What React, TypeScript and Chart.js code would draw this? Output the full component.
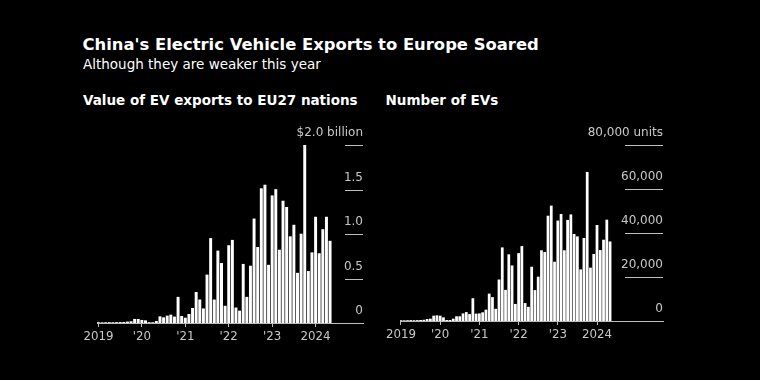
import React, { useEffect, useRef } from 'react';
import { Chart, registerables } from 'chart.js';

Chart.register(...registerables);

const monthLabels = [
  '2019-01', '2019-02', '2019-03', '2019-04', '2019-05', '2019-06', '2019-07', '2019-08', '2019-09', '2019-10', '2019-11', '2019-12',
  '2020-01', '2020-02', '2020-03', '2020-04', '2020-05', '2020-06', '2020-07', '2020-08', '2020-09', '2020-10', '2020-11', '2020-12',
  '2021-01', '2021-02', '2021-03', '2021-04', '2021-05', '2021-06', '2021-07', '2021-08', '2021-09', '2021-10', '2021-11', '2021-12',
  '2022-01', '2022-02', '2022-03', '2022-04', '2022-05', '2022-06', '2022-07', '2022-08', '2022-09', '2022-10', '2022-11', '2022-12',
  '2023-01', '2023-02', '2023-03', '2023-04', '2023-05', '2023-06', '2023-07', '2023-08', '2023-09', '2023-10', '2023-11', '2023-12',
  '2024-01', '2024-02', '2024-03', '2024-04', '2024-05',
];

// Value of EV exports to EU27 nations, $ billion
const exportValueBn = [
  0.005, 0.004, 0.005, 0.006, 0.005, 0.006, 0.007, 0.008, 0.012, 0.016, 0.042, 0.041,
  0.031, 0.026, 0.005, 0.005, 0.019, 0.071, 0.06, 0.079, 0.09, 0.068, 0.29, 0.075,
  0.056, 0.098, 0.165, 0.345, 0.26, 0.16, 0.54, 0.95, 0.26, 0.81, 0.67, 0.19,
  0.87, 0.93, 0.17, 0.135, 0.66, 0.29, 0.64, 1.17, 0.85, 1.51, 1.55, 0.65,
  1.43, 1.5, 0.82, 1.37, 1.3, 0.97, 1.1, 0.56, 1.0, 2.01, 0.58, 0.79,
  1.19, 0.78, 1.05, 1.19, 0.92,
];

// Number of EVs, units
const exportUnits = [
  200, 150, 200, 250, 200, 250, 300, 400, 750, 900, 2270, 2420,
  2270, 1500, 300, 300, 900, 2000, 2000, 3300, 3900, 3000, 10200, 3200,
  3300, 3800, 5000, 12300, 10700, 5400, 18700, 33300, 14000, 30150, 25100, 7600,
  30700, 33900, 8000, 6300, 24500, 13900, 20000, 32000, 31200, 47700, 52300, 26800,
  45500, 48500, 32000, 45800, 48300, 39400, 38300, 23300, 37600, 67600, 24100, 30300,
  43500, 32100, 36800, 45900, 36000,
];

const xTickMonths = ['2019-01', '2020-01', '2021-01', '2022-01', '2023-01', '2024-01'];
const xTickLabels = ['2019', "'20", "'21", "'22", "'23", '2024'];

const valueTicks = [0, 0.5, 1, 1.5, 2];
const valueTickLabels = ['0', '0.5', '1.0', '1.5', '$2.0 billion'];

const unitTicks = [0, 20000, 40000, 60000, 80000];
const unitTickLabels = ['0', '20,000', '40,000', '60,000', '80,000 units'];

const TICK_COLOR = '#c8c8c8';
const LINE_COLOR = '#bdbdbd';
const FONT = 'DejaVu Sans';

type PanelProps = {
  values: number[];
  yTicks: number[];
  yLabels: string[];
  xMin: number;
  xMax: number;
  gridLen: number;
  barThickness: number;
  padding: { left: number; right: number; top: number; bottom: number };
  left: number;
  top: number;
  width: number;
  height: number;
};

function BarPanel(p: PanelProps) {
  const ref = useRef<HTMLCanvasElement>(null);
  useEffect(() => {
    if (!ref.current) return;
    const tickIdx = xTickMonths.map((m) => monthLabels.indexOf(m));
    const shortGrid = {
      id: 'shortGrid',
      beforeDatasetsDraw(chart: any) {
        const { ctx, chartArea, scales } = chart;
        ctx.save();
        ctx.strokeStyle = LINE_COLOR;
        ctx.lineWidth = 1;
        p.yTicks.forEach((v) => {
          const y = Math.round(scales.y.getPixelForValue(v)) + 0.5;
          ctx.beginPath();
          ctx.moveTo(chartArea.right - p.gridLen, y);
          ctx.lineTo(chartArea.right, y);
          ctx.stroke();
        });
        ctx.restore();
      },
    };
    const chart = new Chart(ref.current, {
      type: 'bar',
      data: {
        datasets: [
          {
            data: p.values.map((v, i) => ({ x: monthLabels.indexOf(monthLabels[i]), y: v })),
            backgroundColor: '#ffffff',
            borderWidth: 0,
            barThickness: p.barThickness,
          },
        ],
      },
      options: {
        animation: false,
        responsive: false,
        maintainAspectRatio: false,
        layout: { padding: p.padding },
        plugins: { legend: { display: false }, tooltip: { enabled: false } },
        scales: {
          x: {
            type: 'linear',
            offset: false,
            min: p.xMin,
            max: p.xMax,
            afterBuildTicks: (s: any) => {
              s.ticks = tickIdx.map((v) => ({ value: v }));
            },
            afterFit: (s: any) => {
              s.height = 20;
            },
            ticks: {
              autoSkip: false,
              maxRotation: 0,
              padding: 3,
              color: TICK_COLOR,
              font: { family: FONT, size: 11.8 },
              callback: (_v: any, i: number) => xTickLabels[i],
            },
            grid: { offset: false, drawOnChartArea: false, drawTicks: true, tickLength: 4, color: LINE_COLOR },
            border: { display: true, color: LINE_COLOR },
          },
          y: {
            position: 'right',
            min: 0,
            max: p.yTicks[p.yTicks.length - 1],
            afterBuildTicks: (s: any) => {
              s.ticks = p.yTicks.map((v) => ({ value: v }));
            },
            afterFit: (s: any) => {
              s.width = 0;
            },
            ticks: {
              mirror: true,
              padding: 0,
              labelOffset: -12,
              color: TICK_COLOR,
              font: { family: FONT, size: 12 },
              callback: (_v: any, i: number) => p.yLabels[i],
            },
            grid: { display: false },
            border: { display: false },
          },
        },
      } as any,
      plugins: [shortGrid],
    });
    return () => chart.destroy();
  }, []);
  return (
    <canvas
      ref={ref}
      width={p.width}
      height={p.height}
      style={{ position: 'absolute', left: p.left, top: p.top, width: p.width, height: p.height }}
    />
  );
}

const textBase: React.CSSProperties = {
  position: 'absolute',
  color: '#ffffff',
  fontFamily: FONT,
  lineHeight: 1,
  whiteSpace: 'nowrap',
  margin: 0,
};

export default function App() {
  return (
    <div style={{ position: 'fixed', left: 0, top: 0, width: 760, height: 380, background: '#000', overflow: 'hidden' }}>
      <div style={{ ...textBase, left: 82.5, top: 37.4, fontSize: 16.4, fontWeight: 'bold' }}>
        China's Electric Vehicle Exports to Europe Soared
      </div>
      <div style={{ ...textBase, left: 83, top: 57.5, fontSize: 13.5 }}>Although they are weaker this year</div>
      <div style={{ ...textBase, left: 83, top: 94.1, fontSize: 13.5, fontWeight: 'bold' }}>
        Value of EV exports to EU27 nations
      </div>
      <div style={{ ...textBase, left: 385.5, top: 94.1, fontSize: 13.5, fontWeight: 'bold' }}>Number of EVs</div>
      <BarPanel
        values={exportValueBn}
        yTicks={valueTicks}
        yLabels={valueTickLabels}
        xMin={-0.4}
        xMax={73.1}
        gridLen={18}
        barThickness={2.3}
        padding={{ left: 17, right: 7, top: 25, bottom: 7 }}
        left={80}
        top={120}
        width={290}
        height={230}
      />
      <BarPanel
        values={exportUnits}
        yTicks={unitTicks}
        yLabels={unitTickLabels}
        xMin={-0.3}
        xMax={80.2}
        gridLen={38}
        barThickness={2.1}
        padding={{ left: 20, right: 7, top: 25, bottom: 9 }}
        left={380}
        top={120}
        width={290}
        height={230}
      />
    </div>
  );
}
